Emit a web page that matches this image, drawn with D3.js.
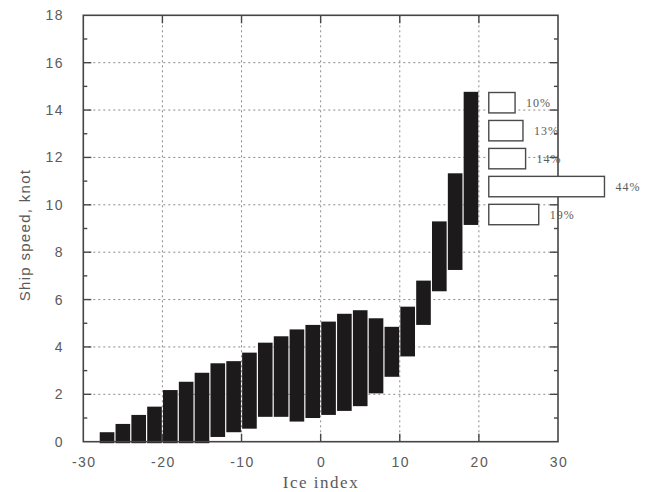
<!DOCTYPE html>
<html>
<head>
<meta charset="utf-8">
<script src="https://cdn.jsdelivr.net/npm/d3@7/dist/d3.min.js"></script>
<style>
  html, body { margin: 0; padding: 0; background: #ffffff; }
  svg { display: block; }
</style>
</head>
<body>
<svg id="chart" width="653" height="492"></svg>
<script>
// ---- data ----
const iceStart = [-28, -26, -24, -22, -20, -18, -16, -14, -12, -10, -8, -6, -4, -2, 0, 2, 4, 6, 8, 10, 12, 14, 16, 18];
const speedLow  = [0, 0, 0, 0, 0, 0, 0, 0.2, 0.4, 0.55, 1.05, 1.05, 0.85, 1.0, 1.13, 1.3, 1.5, 2.04, 2.74, 3.6, 4.93, 6.35, 7.25, 9.15];
const speedHigh = [0.4, 0.75, 1.13, 1.48, 2.18, 2.53, 2.91, 3.31, 3.4, 3.76, 4.18, 4.45, 4.74, 4.93, 5.07, 5.4, 5.55, 5.21, 4.85, 5.7, 6.8, 9.3, 11.33, 14.77];
const binWidth = 2;
const insetPercent = [10, 13, 14, 44, 19];
const xTicks = [-30, -20, -10, 0, 10, 20, 30];
const yTicks = [0, 2, 4, 6, 8, 10, 12, 14, 16, 18];
const xTitle = "Ice index";
const yTitle = "Ship speed, knot";

// ---- layout ----
const svg = d3.select("#chart");
const L = 83.3, R = 558, T = 15.3, B = 441.7;
const x = d3.scaleLinear().domain([-30, 30]).range([L, R]);
const y = d3.scaleLinear().domain([0, 18]).range([B, T]);
const frameColor = "#454545";
const textColor = "#5a5a5a";

// grid
const grid = svg.append("g");
grid.selectAll("line.gx").data(xTicks.filter(d => d > -30 && d < 30)).join("line")
  .attr("x1", d => x(d)).attr("x2", d => x(d)).attr("y1", T).attr("y2", B)
  .attr("stroke", "#8a8a8a").attr("stroke-width", 1).attr("stroke-dasharray", "2,3");
grid.selectAll("line.gy").data(yTicks.filter(d => d > 0 && d < 18)).join("line")
  .attr("x1", L).attr("x2", R).attr("y1", d => y(d)).attr("y2", d => y(d))
  .attr("stroke", "#8a8a8a").attr("stroke-width", 1).attr("stroke-dasharray", "2,3");

// floating bars
const bars = iceStart.map((s, i) => ({ s, lo: speedLow[i], hi: speedHigh[i] }));
svg.append("g").selectAll("rect").data(bars).join("rect")
  .attr("x", d => x(d.s) + 0.6)
  .attr("width", d => x(d.s + binWidth) - x(d.s) - 1.2)
  .attr("y", d => y(d.hi))
  .attr("height", d => y(d.lo) - y(d.hi) + (d.lo === 0 ? 1.5 : 0))
  .attr("fill", "#1c1a1a");

// axes with inward ticks
const minorY = d3.range(1, 18, 2);
function tickLines(g, data, fn) { g.selectAll(null).data(data).join("line").each(fn); }
const axes = svg.append("g").attr("stroke", frameColor).attr("stroke-width", 1.4);
// left & right major/minor
yTicks.filter(d => d > 0 && d < 18).forEach(d => {
  axes.append("line").attr("x1", L).attr("x2", L + 8).attr("y1", y(d)).attr("y2", y(d));
  axes.append("line").attr("x1", R).attr("x2", R - 8).attr("y1", y(d)).attr("y2", y(d));
});
minorY.forEach(d => {
  axes.append("line").attr("x1", L).attr("x2", L + 4).attr("y1", y(d)).attr("y2", y(d));
  axes.append("line").attr("x1", R).attr("x2", R - 4).attr("y1", y(d)).attr("y2", y(d));
});
xTicks.filter(d => d > -30 && d < 30).forEach(d => {
  axes.append("line").attr("x1", x(d)).attr("x2", x(d)).attr("y1", B).attr("y2", B - 8);
  axes.append("line").attr("x1", x(d)).attr("x2", x(d)).attr("y1", T).attr("y2", T + 8);
});
axes.append("rect").attr("x", L).attr("y", T).attr("width", R - L).attr("height", B - T)
  .attr("fill", "none").attr("stroke-width", 1.6);

// inset histogram
const insetBand = d3.scaleBand().domain(insetPercent.map((d, i) => i))
  .range([y(14.9), y(9.0)]).paddingInner(0.27).paddingOuter(0.135);
const insetW = d3.scaleLinear().domain([0, 44]).range([0, 115.7]);
const x0 = x(21.25);
const inset = svg.append("g");
inset.selectAll("rect").data(insetPercent).join("rect")
  .attr("x", x0).attr("y", (d, i) => insetBand(i))
  .attr("width", d => insetW(d)).attr("height", insetBand.bandwidth())
  .attr("fill", "#ffffff").attr("stroke", "#4a4a4a").attr("stroke-width", 1.4);
inset.selectAll("text").data(insetPercent).join("text")
  .attr("x", d => x0 + insetW(d) + 11)
  .attr("y", (d, i) => insetBand(i) + insetBand.bandwidth() / 2 + 4)
  .attr("font-family", "'Liberation Serif', serif").attr("font-size", 12)
  .attr("letter-spacing", 1).attr("fill", textColor)
  .text(d => d + "%");

// tick labels
svg.append("g").selectAll("text").data(yTicks).join("text")
  .attr("x", 64).attr("y", d => y(d) + 5)
  .attr("text-anchor", "end")
  .attr("font-family", "'Liberation Sans', Arial, sans-serif").attr("font-size", 14)
  .attr("letter-spacing", 1.5).attr("fill", textColor)
  .text(d => d);
svg.append("g").selectAll("text").data(xTicks).join("text")
  .attr("x", d => x(d) + 1).attr("y", 467)
  .attr("text-anchor", "middle")
  .attr("font-family", "'Liberation Sans', Arial, sans-serif").attr("font-size", 14)
  .attr("letter-spacing", 1.5).attr("fill", textColor)
  .text(d => d);

// titles
svg.append("text")
  .attr("transform", "translate(30," + 235 + ") rotate(-90)")
  .attr("text-anchor", "middle")
  .attr("font-family", "'Liberation Sans', Arial, sans-serif").attr("font-size", 15)
  .attr("letter-spacing", 1.3).attr("fill", textColor)
  .text(yTitle);
svg.append("text")
  .attr("x", 321).attr("y", 488)
  .attr("text-anchor", "middle")
  .attr("font-family", "'Liberation Serif', serif").attr("font-size", 17)
  .attr("letter-spacing", 1.5).attr("fill", textColor)
  .text(xTitle);
</script>
</body>
</html>
